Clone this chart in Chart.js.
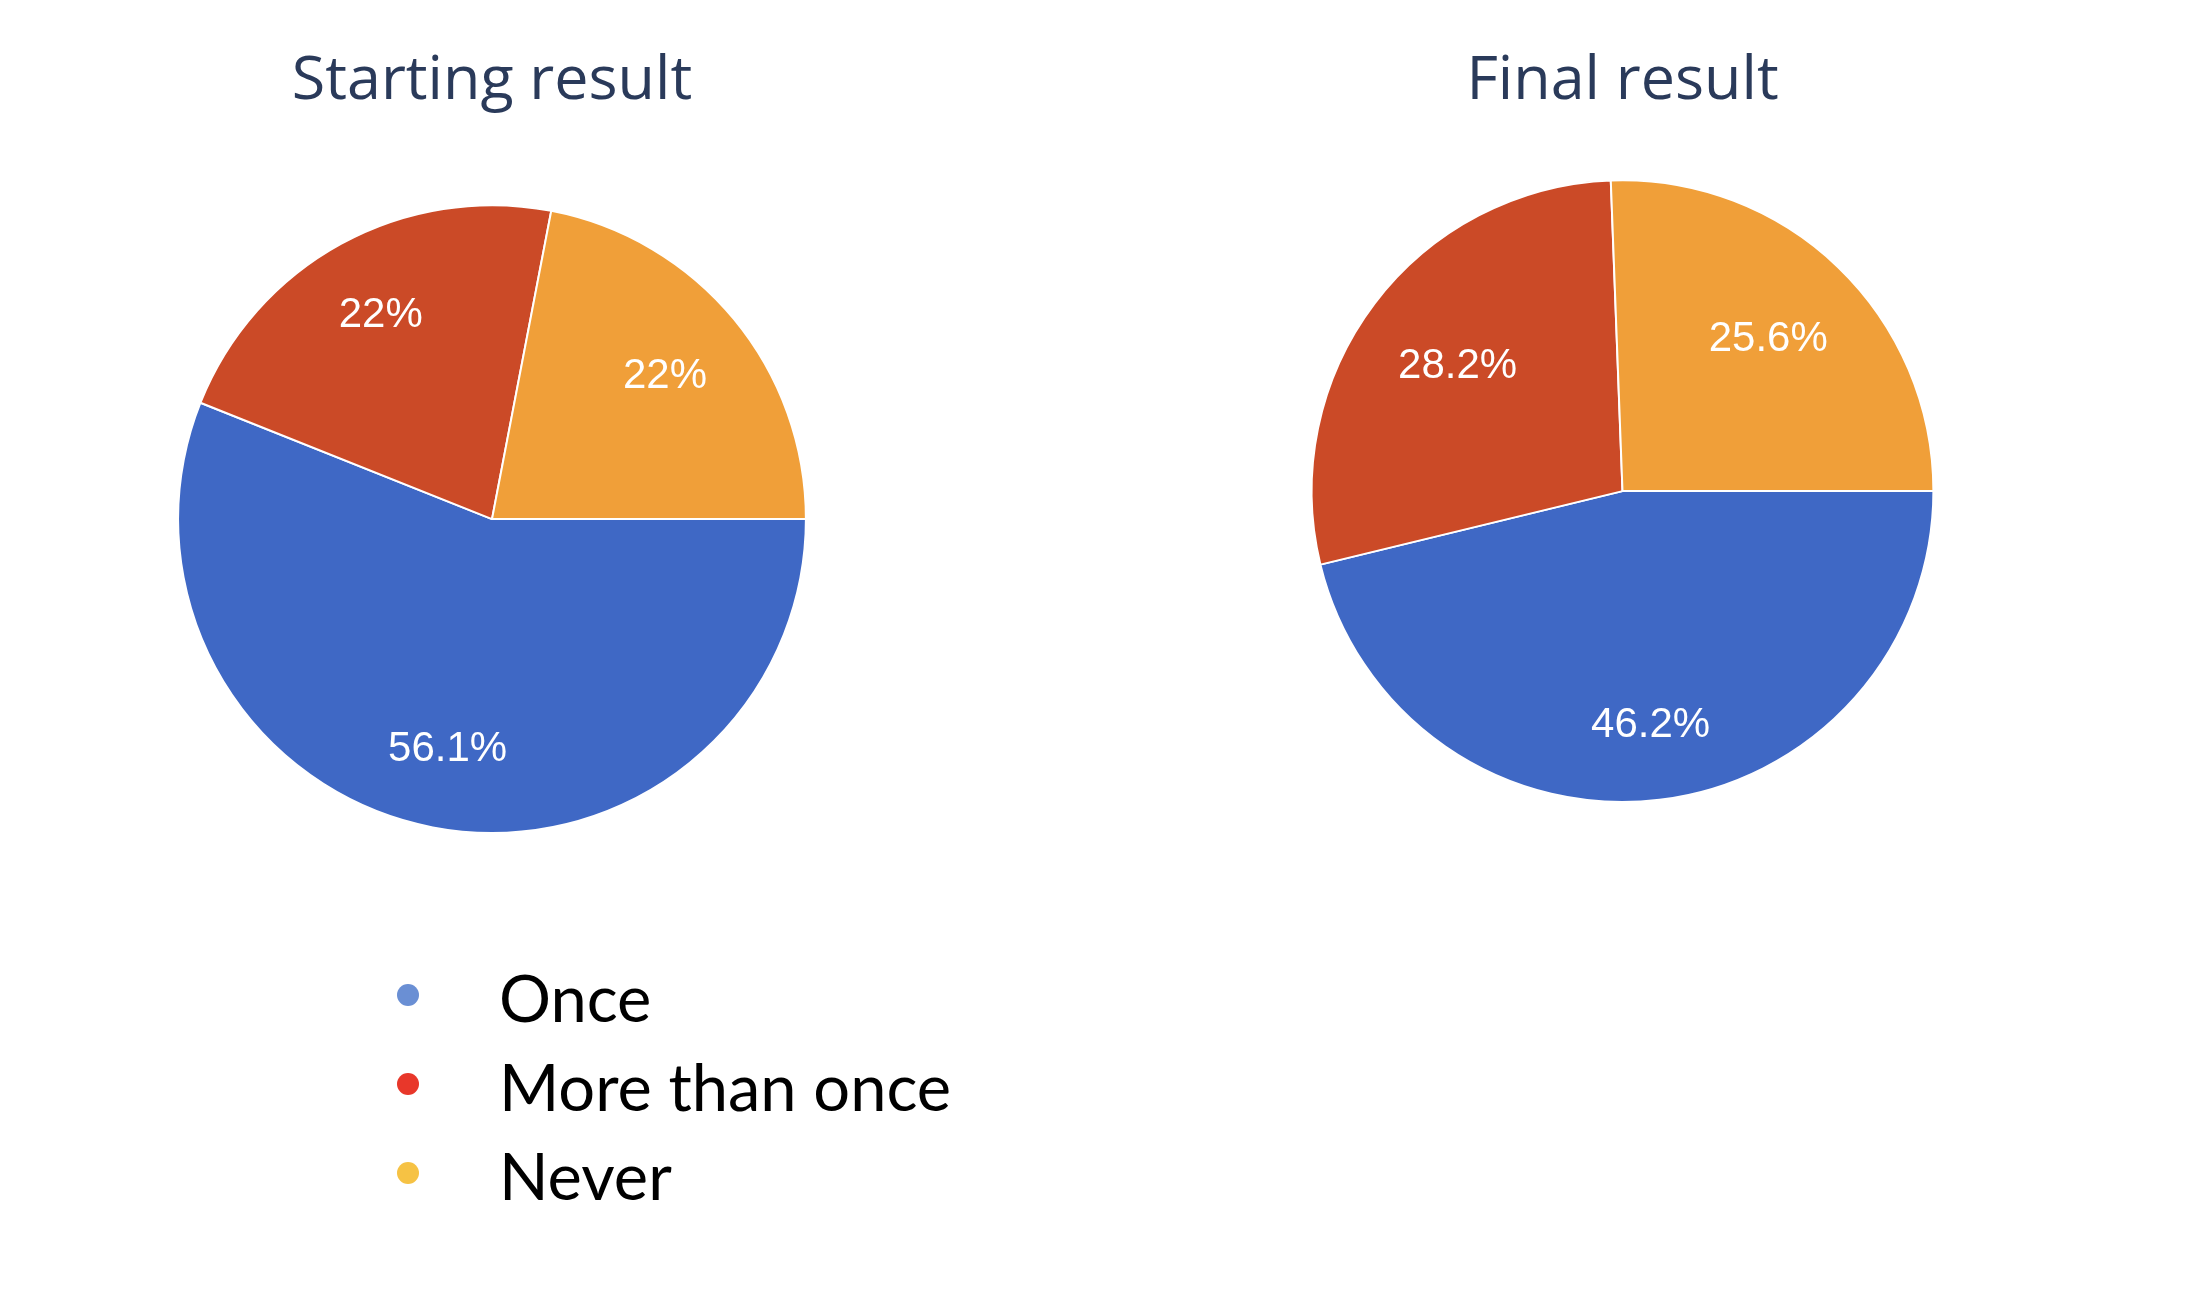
<!DOCTYPE html>
<html>
<head>
<meta charset="utf-8">
<title>Starting result / Final result</title>
<script src="https://cdn.jsdelivr.net/npm/chart.js@4.4.1/dist/chart.umd.min.js"></script>
<style>
  body { margin: 0; background: #fff; width: 2186px; height: 1306px; overflow: hidden; position: relative; }
  canvas { position: absolute; top: 0; }
  #startChart { left: 0; }
  #finalChart { left: 1123px; }
  #legend { position: absolute; left: 386px; top: 953px; font-family: Lato, "Open Sans", sans-serif; font-size: 65px; line-height: 89px; color: #000; font-variant-ligatures: none; }
  .item { position: relative; padding-left: 113px; white-space: nowrap; }
  .dot { position: absolute; left: 11px; top: 31px; width: 22px; height: 22px; border-radius: 50%; }
</style>
</head>
<body>
<canvas id="startChart" width="984" height="900"></canvas>
<canvas id="finalChart" width="999" height="900"></canvas>
<div id="legend"></div>
<script>
const categories = ['Once', 'More than once', 'Never'];
const startValues = [56.1, 22, 22];
const finalValues = [46.2, 28.2, 25.6];
const chartTitles = ['Starting result', 'Final result'];
const sliceColors = ['#3f68c5', '#cb4a27', '#f09f39'];
const bulletColors = ['#6a8fd4', '#e8372a', '#f6c244'];

// percent labels inside the slices: the label box is pushed out along the
// middle of the slice until its outer corner touches 85% of the radius
const sliceLabels = {
  id: 'sliceLabels',
  afterDatasetsDraw(chart) {
    const ctx = chart.ctx;
    const values = chart.data.datasets[0].data;
    ctx.save();
    ctx.fillStyle = '#fff';
    ctx.font = '42px "Liberation Sans", Arial, sans-serif';
    ctx.textAlign = 'center';
    ctx.textBaseline = 'middle';
    chart.getDatasetMeta(0).data.forEach((arc, i) => {
      const p = arc.getProps(['x', 'y', 'startAngle', 'endAngle', 'outerRadius']);
      const text = values[i] + '%';
      const mid = (p.startAngle + p.endAngle) / 2;
      const cx = Math.cos(mid), cy = Math.sin(mid);
      const hw = ctx.measureText(text).width / 2;
      const hh = 15;
      const R = p.outerRadius * 0.85;
      const b = Math.abs(cx) * hw + Math.abs(cy) * hh;
      const d = -b + Math.sqrt(b * b - (hw * hw + hh * hh - R * R));
      ctx.fillText(text, p.x + cx * d, p.y + cy * d);
    });
    ctx.restore();
  }
};

function makePie(id, title, values, titleGap, bottomPad) {
  return new Chart(document.getElementById(id), {
    type: 'pie',
    data: {
      labels: categories,
      datasets: [{
        data: values,
        backgroundColor: sliceColors,
        borderColor: '#fff',
        borderWidth: 2
      }]
    },
    options: {
      responsive: false,
      animation: false,
      events: [],
      rotation: 90,
      layout: { padding: { bottom: bottomPad } },
      plugins: {
        legend: { display: false },
        tooltip: { enabled: false },
        title: {
          display: true,
          text: title,
          color: '#2a3a5a',
          font: { family: '"Open Sans"', size: 61, weight: 'normal', lineHeight: 1.2 },
          padding: { top: 45, bottom: titleGap }
        }
      }
    },
    plugins: [sliceLabels]
  });
}

makePie('startChart', chartTitles[0], startValues, 86, 66);
makePie('finalChart', chartTitles[1], finalValues, 61, 97);

// legend (slide bullets)
let legend = document.getElementById('legend');
categories.forEach((name, i) => {
  let row = document.createElement('div');
  row.className = 'item';
  let dot = document.createElement('span');
  dot.className = 'dot';
  dot.style.background = bulletColors[i];
  row.appendChild(dot);
  row.appendChild(document.createTextNode(name));
  legend.appendChild(row);
});
</script>
</body>
</html>
